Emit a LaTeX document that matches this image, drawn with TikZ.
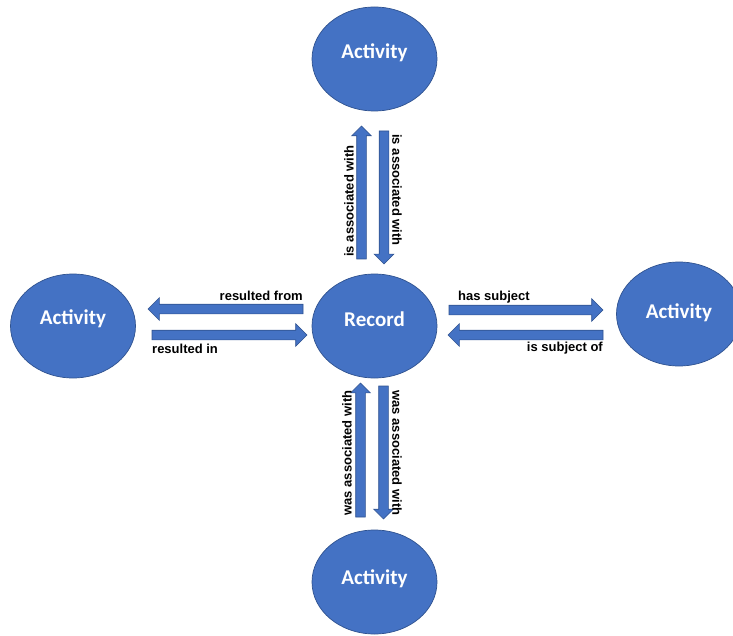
\documentclass[tikz,border=0pt]{standalone}
\usepackage{fontspec}
\setmainfont{Liberation Sans}
\newfontfamily\actfont{Carlito}
\usetikzlibrary{shapes.arrows,shapes.geometric}
\definecolor{myblue}{HTML}{4472C4}
\definecolor{myborder}{HTML}{2F528F}
\tikzset{
  act/.style={ellipse, fill=myblue, draw=myborder, line width=0.7pt, minimum width=125pt, minimum height=104pt, inner sep=0pt, outer sep=0pt},
  acttext/.style={text=white, font=\actfont\fontsize{21}{24}\selectfont\bfseries, inner sep=0pt},
  blk/.style={single arrow, fill=myblue, draw=myborder, line width=0.6pt, inner xsep=0pt, inner ysep=4.5pt, minimum width=0pt, outer sep=0pt, anchor=tail},
  harr/.style={blk, single arrow head extend=6.5pt},
  varr/.style={blk, single arrow head extend=5pt},
  lbl/.style={font=\fontsize{13}{15}\selectfont\bfseries, inner sep=0pt, text=black}
}
\begin{document}
\begin{tikzpicture}[x=1pt, y=-1pt]
\useasboundingbox (0,0) rectangle (733,636);
\clip (0,0) rectangle (733,636);
% ellipses
\node[act] (top) at (374.5,59) {};
\node[act] (left) at (73,326) {};
\node[act] (rec) at (374.5,326) {};
\node[act] (right) at (679,314) {};
\node[act] (bot) at (374.5,582) {};
\node[acttext] (topt) at ([yshift=6pt]top.center) {Activity};
\node[acttext] (leftt) at ([yshift=7pt]left.center) {Activity};
\node[acttext] (rect) at ([yshift=7pt]rec.center) {Record};
\node[acttext] (rightt) at ([yshift=1pt]right.center) {Activity};
\node[acttext] (bott) at ([yshift=3pt]bot.center) {Activity};
% vertical arrows top
\node[varr, minimum height=133pt, rotate=90] (a1) at (361.5,259) {};
\node[varr, minimum height=133pt, rotate=-90] (a2) at (384,131) {};
% horizontal left
\node[harr, minimum height=155pt, rotate=180] (a3) at (303,309) {};
\node[harr, minimum height=155pt] (a4) at (152,335) {};
% horizontal right
\node[harr, minimum height=154pt] (a5) at (449,310) {};
\node[harr, minimum height=155pt, rotate=180] (a6) at (603,335) {};
% vertical arrows bottom
\node[varr, minimum height=134pt, rotate=90] (a7) at (360.5,517) {};
\node[varr, minimum height=133pt, rotate=-90] (a8) at (383.5,386) {};
% labels
\node[lbl, rotate=90] (l1) at (349,201) {is associated with};
\node[lbl, rotate=-90] (l2) at (397,190) {is associated with};
\node[lbl, anchor=east] (l3) at (303,296) {resulted from};
\node[lbl, anchor=west] (l4) at (152,349) {resulted in};
\node[lbl, anchor=west] (l5) at (458,297) {has subject};
\node[lbl, anchor=east] (l6) at (603,348) {is subject of};
\node[lbl, rotate=90] (l7) at (347,453) {was associated with};
\node[lbl, rotate=-90] (l8) at (397,453) {was associated with};
\end{tikzpicture}
\end{document}
